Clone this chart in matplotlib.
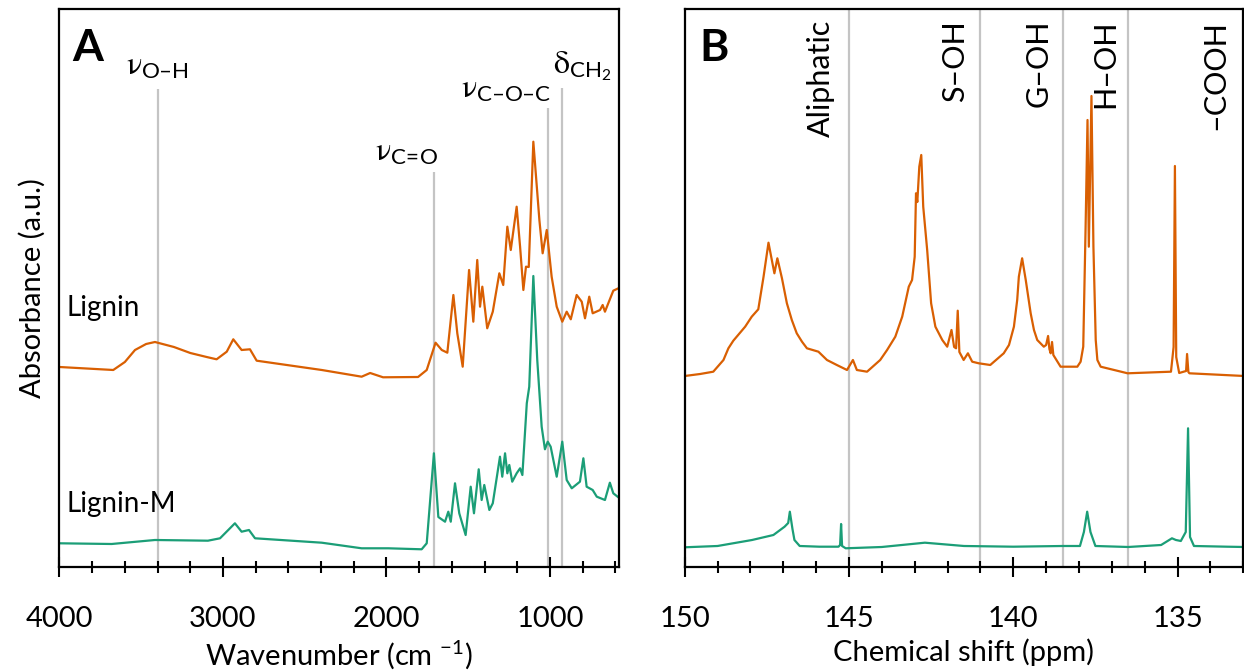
import matplotlib
matplotlib.use("Agg")
import matplotlib.pyplot as plt
from matplotlib.ticker import MultipleLocator

# ---- data (heights in a.u., 0 = bottom axis) ----
# FTIR, Lignin
ir_lig_wn = [4000, 3671, 3600, 3538, 3470, 3416, 3300, 3200, 3100, 3039, 2977, 2937,
             2886, 2835, 2794, 2396, 2152, 2100, 2021, 1807, 1754, 1700, 1662, 1628,
             1591, 1567, 1534, 1495, 1469, 1445, 1428, 1414, 1384, 1350, 1310, 1286,
             1261, 1240, 1204, 1183, 1163, 1147, 1130, 1102, 1065, 1045, 1020, 990,
             959, 925, 898, 873, 837, 806, 786, 760, 739, 694, 678, 664, 613, 582]
ir_lig_abs = [200, 197, 205, 217, 223, 225, 220, 214, 210, 207.7, 215.3, 227.7,
              217, 217.7, 206.3, 197, 190.3, 194, 189.7, 190, 197, 224.3, 217, 214.3,
              272, 233.7, 200.3, 297, 245.3, 307, 260.3, 280.3, 238.7, 255.3, 293.7, 282,
              340.3, 317, 360.3, 320.3, 277, 300.3, 300, 425.3, 347, 313.7, 337, 290.3,
              260.3, 245.3, 255.3, 247.7, 272, 265.3, 248.7, 270.3, 253.7, 257, 262, 255.3,
              276.3, 278.7]

# FTIR, Lignin-M
ir_ligm_wn = [4000, 3681, 3416, 3092, 3018, 2927, 2886, 2841, 2804, 2396, 2152, 1989,
              1785, 1754, 1710, 1683, 1642, 1622, 1607, 1581, 1555, 1516, 1485, 1465,
              1436, 1418, 1402, 1371, 1350, 1306, 1292, 1275, 1261, 1249, 1231, 1204,
              1183, 1169, 1142, 1127, 1102, 1078, 1051, 1031, 1014, 996, 959, 925, 898,
              867, 817, 796, 776, 739, 714, 664, 634, 613, 582]
ir_ligm_abs = [23.7, 23, 27, 26.3, 28.7, 43.7, 35.3, 37, 28.7, 24.3, 18.7, 18.7,
               17.7, 23.7, 113.7, 50, 45.3, 55.3, 45.3, 83.7, 53.7, 32, 80.3, 53.7,
               97.7, 67, 82, 57, 63.7, 110.3, 90.3, 113.7, 93.7, 102, 85.3, 93.7,
               98.7, 92, 163.7, 180.3, 291, 207, 140.3, 117.7, 125.3, 120.3, 90.3, 125.3, 87,
               78.7, 85.3, 108.7, 80.3, 77, 70.3, 67, 84.3, 73.7, 69.7]

# 31P NMR, Lignin
nmr_lig_ppm = [150.0, 149.53, 149.13, 148.82, 148.67, 148.52, 148.16, 147.96, 147.76,
               147.60, 147.45, 147.27, 147.18, 147.04, 146.89, 146.74, 146.59, 146.43,
               146.28, 145.93, 145.67, 145.37, 145.06, 144.88, 144.76, 144.45, 144.05,
               143.84, 143.59, 143.38, 143.18, 143.08, 143.0, 142.96, 142.92, 142.86,
               142.80, 142.74, 142.62, 142.50, 142.37, 142.16, 142.01, 141.88, 141.80,
               141.74, 141.69, 141.64, 141.51, 141.38, 141.25, 141.05, 140.7, 140.29,
               140.13, 139.98, 139.88, 139.83, 139.73, 139.62, 139.47, 139.37, 139.27,
               139.07, 139.0, 138.94, 138.90, 138.86, 138.82, 138.78, 138.56, 138.05,
               137.95, 137.87, 137.80, 137.74, 137.70, 137.62, 137.56, 137.49, 137.44,
               137.34, 136.52, 135.20, 135.12, 135.08, 135.04, 134.95, 134.74, 134.71,
               134.67, 134.64, 132.97]
nmr_lig_int = [191, 193, 195.3, 207, 218.7, 226.3, 240.3, 250.3, 257.7,
               290.3, 324.3, 293.7, 308.7, 288.7, 263.7, 247, 233.7, 225.3,
               218.7, 215.3, 207, 202, 197, 207, 197, 195.3, 207,
               217, 230.3, 250.3, 280.3, 287, 310.3, 373.7, 365, 400.3,
               412, 360.3, 317, 263.7, 240.3, 227, 220.3, 237, 220,
               218.7, 256.3, 215, 207, 213.7, 205.3, 203.7, 202, 213.7,
               222, 240.3, 267, 290.3, 308.7, 287, 253.7, 237, 227,
               220.3, 222, 231, 218, 213.7, 225, 212, 200.3, 200.3,
               205.3, 220.3, 337, 447, 320.3, 471, 320, 227, 207,
               200.3, 193.7, 195.3, 220, 401, 210, 194, 196, 213,
               195, 193.7, 191]

# 31P NMR, Lignin-M
nmr_ligm_ppm = [150.0, 149.0, 147.95, 147.3, 146.96, 146.85, 146.80, 146.72, 146.66,
                146.5, 145.9, 145.32, 145.27, 145.24, 145.21, 145.1, 144.0, 142.69,
                141.5, 140.0, 138.5, 137.97, 137.85, 137.75, 137.65, 137.5, 136.5,
                135.5, 135.17, 135.05, 134.9, 134.75, 134.68, 134.62, 134.5, 133.5, 132.97]
nmr_ligm_int = [19.7, 21, 27, 32, 40.3, 44, 55.3, 38, 27,
                21, 20.3, 20.3, 22, 43, 21, 18.7, 20, 24.3,
                21, 20.3, 21, 21, 35, 55.3, 35, 21, 20,
                22, 28.7, 27, 26, 35, 138.7, 30, 21, 20.3, 20]

# band markers
ir_bands = [3400, 1710, 1012, 925]
ir_band_tops = [478, 395, 459, 479]
nmr_borders = [145, 141, 138.5, 136.5]
nmr_regions = ["Aliphatic", "S–OH", "G–OH", "H–OH", "–COOH"]
nmr_region_x = [145.85, 141.77, 139.24, 137.19, 133.84]

orange = "#d95f02"
green = "#1b9e77"
grey = "#c4c4c4"

plt.rcParams["font.family"] = ["Lato", "DejaVu Sans"]
plt.rcParams["mathtext.fontset"] = "custom"
plt.rcParams["mathtext.rm"] = "STIXGeneral"
plt.rcParams["mathtext.it"] = "STIXGeneral:italic"
plt.rcParams["mathtext.bf"] = "STIXGeneral:bold"
plt.rcParams["mathtext.sf"] = "Lato"
plt.rcParams["mathtext.fallback"] = "stix"

fig = plt.figure(figsize=(12.44, 6.71), dpi=100)
axA = fig.add_axes([0.0478, 0.155, 0.4498, 0.8316])
axB = fig.add_axes([0.5504, 0.155, 0.4490, 0.8316])

for ax in (axA, axB):
    for sp in ax.spines.values():
        sp.set_linewidth(1.6)
    ax.set_yticks([])
    ax.set_ylim(0, 558)
    ax.tick_params(axis="x", which="major", direction="inout", length=14, width=1.5,
                   labelsize=21, pad=21)
    ax.tick_params(axis="x", which="minor", direction="inout", length=9, width=1.5)

# ---- panel A ----
axA.vlines(ir_bands, 0, ir_band_tops, color=grey, lw=1.6, zorder=1)
axA.plot(ir_lig_wn, ir_lig_abs, color=orange, lw=1.6, zorder=2)
axA.plot(ir_ligm_wn, ir_ligm_abs, color=green, lw=1.6, zorder=2)
axA.set_xlim(4000, 578)
axA.xaxis.set_major_locator(MultipleLocator(1000))
axA.xaxis.set_minor_locator(MultipleLocator(200))
axA.set_xlabel(r"Wavenumber (cm $^{\mathsf{-1}}$)", fontsize=21, labelpad=5)
axA.set_ylabel("Absorbance (a.u.)", fontsize=21, labelpad=10)

band_kw = dict(fontsize=23, va="bottom")
axA.text(3400, 486, r"$\mathrm{\nu}_{\mathsf{O–H}}$", ha="center", **band_kw)
axA.text(1687, 400, r"$\mathrm{\nu}_{\mathsf{C\!=\!O}}$", ha="right", **band_kw)
axA.text(990, 463, r"$\mathrm{\nu}_{\mathsf{C–O–C}}$", ha="right", **band_kw)
axA.text(982, 484, r"$\mathrm{\delta}_{\mathsf{CH_2}}$", ha="left", **band_kw)
axA.text(3960, 259, "Lignin", fontsize=20, ha="left", va="center")
axA.text(3960, 63, "Lignin-M", fontsize=20, ha="left", va="center")
axA.text(0.022, 0.966, "A", transform=axA.transAxes, fontsize=32, fontweight="bold",
         ha="left", va="top")

# ---- panel B ----
for b in nmr_borders:
    axB.axvline(b, color=grey, lw=1.6, zorder=1)
axB.plot(nmr_lig_ppm, nmr_lig_int, color=orange, lw=1.6, zorder=2)
axB.plot(nmr_ligm_ppm, nmr_ligm_int, color=green, lw=1.6, zorder=2)
axB.set_xlim(150, 133)
axB.xaxis.set_major_locator(MultipleLocator(5))
axB.xaxis.set_minor_locator(MultipleLocator(1))
axB.set_xlabel("Chemical shift (ppm)", fontsize=21, labelpad=5)
for name, x in zip(nmr_regions, nmr_region_x):
    axB.text(x, 547, name, rotation=90, fontsize=22, ha="center", va="top")
axB.text(0.027, 0.966, "B", transform=axB.transAxes, fontsize=32, fontweight="bold",
         ha="left", va="top")

fig.savefig("out.png", dpi=100)
